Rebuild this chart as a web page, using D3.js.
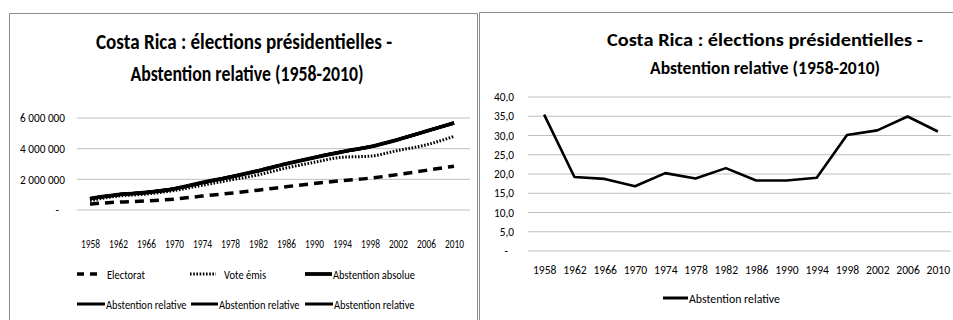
<!DOCTYPE html>
<html>
<head>
<meta charset="utf-8">
<script src="https://cdn.jsdelivr.net/npm/d3@7"></script>
<style>
  body { margin: 0; background: #fff; }
  svg { display: block; }
  text { font-family: Carlito, Lato, "Open Sans", sans-serif; fill: #000; }
</style>
</head>
<body>
<svg id="chart" width="953" height="320"></svg>
<script>
// Costa Rica presidential elections, 1958-2010
const years = ["1958","1962","1966","1970","1974","1978","1982","1986","1990","1994","1998","2002","2006","2010"];
const electorat     = [354779, 483980, 554627, 675285, 875041, 1058455, 1261127, 1486474, 1692050, 1881348, 2045980, 2279851, 2550613, 2822491];
const votesEmis     = [229543, 391500, 451490, 562766, 699340, 860206, 991566, 1216300, 1384326, 1525979, 1431913, 1569418, 1663248, 1950207];
const abstAbsolue   = [125236, 92480, 103137, 112519, 175701, 198249, 269561, 270174, 307724, 355369, 614067, 710433, 887365, 872284];
const abstRelative  = [35.3, 19.1, 18.6, 16.7, 20.1, 18.7, 21.4, 18.2, 18.2, 18.9, 30.0, 31.2, 34.8, 30.9];

const titleLines = ["Costa Rica : élections présidentielles -", "Abstention relative (1958-2010)"];
const leftTicks  = [0, 2000000, 4000000, 6000000];
const rightTicks = [0, 5, 10, 15, 20, 25, 30, 35, 40];
const leftNames  = ["Electorat", "Vote émis", "Abstention absolue", "Abstention relative", "Abstention relative", "Abstention relative"];
const rightNames = ["Abstention relative"];

const svg = d3.select("#chart");
const frFR = d3.formatLocale({ decimal: ",", thousands: "\u00a0", grouping: [3], currency: ["", " €"] });
const fmtBig = frFR.format(",.0f");
const fmtPct = frFR.format(".1f");

// squeeze a text element horizontally to a given width
function fitTo(sel, width) {
  sel.attr("textLength", width).attr("lengthAdjust", "spacingAndGlyphs");
}
// squeeze a group of texts by the factor that brings the reference text to `width`
function fitGroup(sel, refText, width) {
  let factor = 1;
  sel.each(function () { if (this.textContent === refText) factor = width / this.getComputedTextLength(); });
  sel.each(function () {
    const w = this.getComputedTextLength();
    d3.select(this).attr("textLength", w * factor).attr("lengthAdjust", "spacingAndGlyphs");
  });
}

// ---------- frames ----------
svg.append("path").attr("d", "M9.5,330V13.5H477.5V330")
  .attr("fill", "none").attr("stroke", "#8c8c8c").attr("stroke-width", 1);
svg.append("path").attr("d", "M479.5,330V12.5H960")
  .attr("fill", "none").attr("stroke", "#8c8c8c").attr("stroke-width", 1);

// ================= LEFT: stacked lines =================
const L = svg.append("g");
const rows = years.map((y, i) => ({
  year: y, s0: electorat[i], s1: votesEmis[i], s2: abstAbsolue[i],
  s3: abstRelative[i], s4: abstRelative[i], s5: abstRelative[i]
}));
const keys = ["s0", "s1", "s2", "s3", "s4", "s5"];
const stacked = d3.stack().keys(keys)(rows);

const xL = d3.scalePoint().domain(years).range([76, 468]).padding(0.5);
const yL = d3.scaleLinear().domain([0, 6000000]).range([209.5, 117.5]);

const tL = L.append("g").attr("font-weight", "bold").attr("font-size", 23).attr("text-anchor", "middle");
fitTo(tL.append("text").attr("x", 244).attr("y", 49).text(titleLines[0]), 296);
fitTo(tL.append("text").attr("x", 247).attr("y", 81).text(titleLines[1]), 233);

const axL = L.append("g").attr("transform", "translate(77,0)")
  .call(d3.axisLeft(yL).tickValues(leftTicks).tickSize(-393).tickPadding(12)
    .tickFormat(d => d === 0 ? "-" : fmtBig(d)));
axL.select(".domain").remove();
axL.selectAll(".tick line").attr("stroke", "#bfbfbf");
axL.selectAll(".tick text").attr("font-size", 13).attr("font-family", null).attr("fill", "#222");
axL.selectAll(".tick text").filter(d => d === 0).attr("dx", -6);
fitGroup(axL.selectAll(".tick text"), fmtBig(6000000), 45);

const xaL = L.append("g").attr("transform", "translate(0,209.5)")
  .call(d3.axisBottom(xL).tickSize(0).tickPadding(29));
xaL.select(".domain").remove();
xaL.selectAll("text").attr("font-size", 13).attr("font-family", null).attr("fill", "#222");
fitGroup(xaL.selectAll("text"), "1958", 19);

const styles = [
  { w: 3.5, dash: "9,6" },
  { w: 3, dash: "1.6,1.6" },
  { w: 3.8, dash: null },
  { w: 3, dash: null },
  { w: 3, dash: null },
  { w: 3, dash: null }
];
const lineL = d3.line().x(d => xL(d.data.year)).y(d => yL(d[1])).curve(d3.curveMonotoneX);
L.selectAll("path.series").data(stacked).join("path")
  .attr("class", "series")
  .attr("d", lineL)
  .attr("fill", "none").attr("stroke", "#000")
  .attr("stroke-width", (d, i) => styles[i].w)
  .attr("stroke-dasharray", (d, i) => styles[i].dash)
  .attr("stroke-linejoin", "round");

// legend, two rows of three
const legPos = [[77, 274], [190, 274], [305, 274], [77, 304], [191, 304], [305, 304]];
const legW   = [22, 26, 27, 28, 27, 28];
const leg = L.append("g").selectAll("g").data(leftNames).join("g")
  .attr("transform", (d, i) => `translate(${legPos[i][0]},${legPos[i][1]})`);
leg.append("line").attr("x1", 0).attr("x2", (d, i) => legW[i])
  .attr("stroke", "#000")
  .attr("stroke-width", (d, i) => styles[i].w)
  .attr("stroke-dasharray", (d, i) => i === 0 ? "7,6" : styles[i].dash);
const legText = leg.append("text").attr("x", (d, i) => legW[i] + (i < 2 ? 8 : 1)).attr("dy", "0.35em")
  .attr("font-size", 13).attr("fill", "#222").text(d => d);
fitGroup(legText, "Abstention absolue", 82);

// ================= RIGHT: relative abstention =================
const R = svg.append("g");
const xR = d3.scalePoint().domain(years).range([529, 953]).padding(0.5);
const yR = d3.scaleLinear().domain([0, 40]).range([250.5, 96.5]);

const tR = R.append("g").attr("font-weight", "bold").attr("font-size", 19).attr("text-anchor", "middle");
fitTo(tR.append("text").attr("x", 765).attr("y", 46).text(titleLines[0]), 316);
fitTo(tR.append("text").attr("x", 765).attr("y", 74).text(titleLines[1]), 230);

const axR = R.append("g").attr("transform", "translate(528,0)")
  .call(d3.axisLeft(yR).tickValues(rightTicks).tickSize(-423).tickPadding(14)
    .tickFormat(d => d === 0 ? "-" : fmtPct(d)));
axR.select(".domain").remove();
axR.selectAll(".tick line").attr("stroke", "#bfbfbf");
axR.selectAll(".tick text").attr("font-size", 13).attr("font-family", null).attr("fill", "#222");
axR.selectAll(".tick text").filter(d => d === 0).attr("dx", -6);
fitGroup(axR.selectAll(".tick text"), "40,0", 20);

const xaR = R.append("g").attr("transform", "translate(0,250.5)")
  .call(d3.axisBottom(xR).tickSize(0).tickPadding(14));
xaR.select(".domain").remove();
xaR.selectAll("text").attr("font-size", 13).attr("font-family", null).attr("fill", "#222");
fitGroup(xaR.selectAll("text"), "1958", 23.5);

const lineR = d3.line().x((d, i) => xR(years[i])).y(d => yR(d));
R.append("path").datum(abstRelative).attr("d", lineR)
  .attr("fill", "none").attr("stroke", "#000").attr("stroke-width", 2.6)
  .attr("stroke-linejoin", "round");

const legR = R.append("g").attr("transform", "translate(663,298)");
legR.append("line").attr("x1", 0).attr("x2", 25).attr("stroke", "#000").attr("stroke-width", 3);
const legRT = legR.append("text").attr("x", 26).attr("dy", "0.35em").attr("font-size", 13)
  .attr("fill", "#222").text(rightNames[0]);
fitGroup(legRT, rightNames[0], 91);
</script>
</body>
</html>
